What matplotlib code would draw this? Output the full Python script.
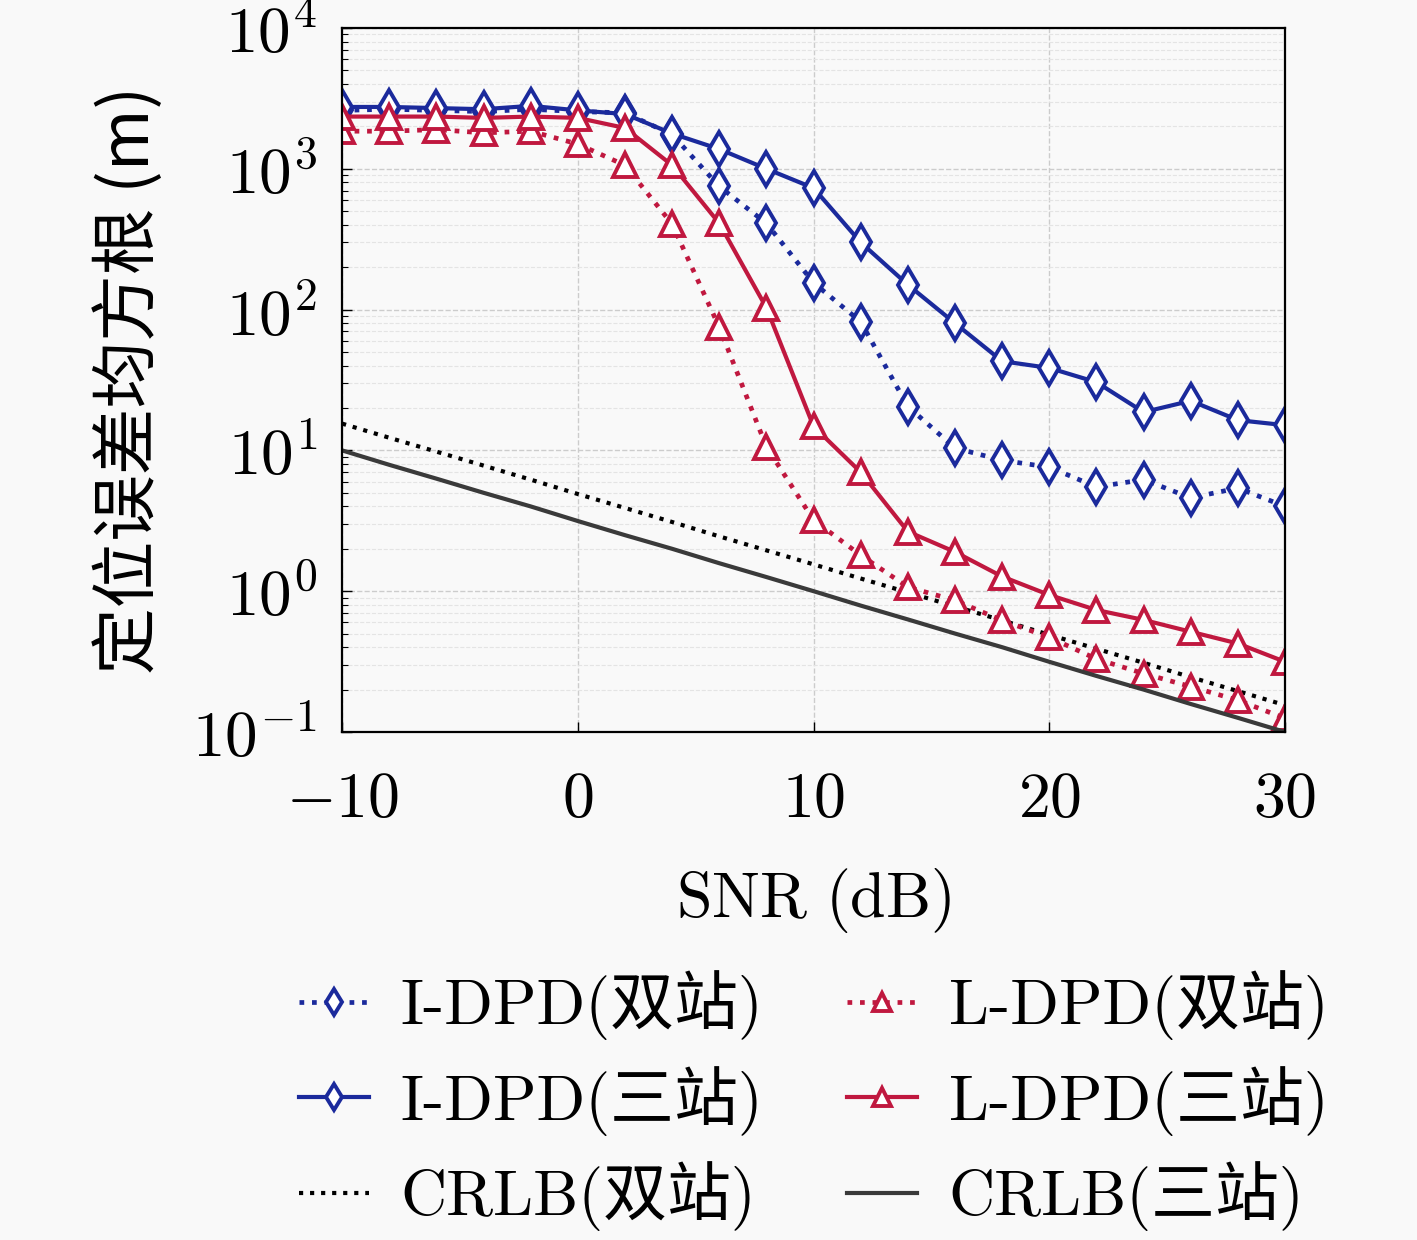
import numpy as np
import matplotlib
matplotlib.use("Agg")
import matplotlib.pyplot as plt
from matplotlib.ticker import LogLocator, NullFormatter, FixedLocator

plt.rcParams['mathtext.fontset'] = 'cm'
plt.rcParams['axes.unicode_minus'] = False

snr = [-10, -8, -6, -4, -2, 0, 2, 4, 6, 8, 10, 12, 14, 16, 18, 20, 22, 24, 26, 28, 30]

idpd_2 = [2600, 2650, 2600, 2550, 2650, 2550, 2500, 1750, 750, 410, 155, 82, 20.5, 10.4, 8.5, 7.6, 5.5, 6.2, 4.6, 5.4, 4.0]
idpd_3 = [2750, 2750, 2700, 2650, 2800, 2600, 2450, 1780, 1380, 1000, 730, 300, 150, 80, 43, 38.5, 30.5, 18.7, 22.5, 16.4, 15.1]
ldpd_2 = [1850, 1850, 1900, 1800, 1850, 1500, 1060, 405, 75, 10.6, 3.2, 1.8, 1.07, 0.86, 0.62, 0.47, 0.33, 0.26, 0.21, 0.168, 0.125]
ldpd_3 = [2350, 2350, 2350, 2300, 2350, 2300, 1950, 1060, 410, 103, 14.8, 7.0, 2.65, 1.9, 1.27, 0.94, 0.735, 0.625, 0.515, 0.425, 0.315]
crlb_2 = [15.5, 12.3, 9.8, 7.8, 6.2, 4.9, 3.9, 3.1, 2.45, 1.95, 1.55, 1.23, 0.98, 0.78, 0.62, 0.49, 0.39, 0.31, 0.245, 0.195, 0.155]
crlb_3 = [10.0, 7.9, 6.3, 5.0, 4.0, 3.15, 2.5, 2.0, 1.58, 1.26, 1.0, 0.79, 0.63, 0.5, 0.4, 0.315, 0.25, 0.2, 0.158, 0.126, 0.1]

labels = ['I-DPD(双站)', 'I-DPD(三站)', 'CRLB(双站)', 'L-DPD(双站)', 'L-DPD(三站)', 'CRLB(三站)']
xticks = [-10, 0, 10, 20, 30]
yticks = [1e-1, 1e0, 1e1, 1e2, 1e3, 1e4]
ytick_labels = [r'$10^{-1}$', r'$10^{0}$', r'$10^{1}$', r'$10^{2}$', r'$10^{3}$', r'$10^{4}$']

blue = '#1b2a9c'
red = '#c0183f'
bg = '#f9f9f9'

fig = plt.figure(figsize=(14.17, 12.4), dpi=100, facecolor=bg)
ax = fig.add_axes([0.2414, 0.4097, 0.6655, 0.5677])
ax.set_facecolor(bg)

l1, = ax.plot(snr, idpd_2, ':', color=blue, lw=3.4, marker='d', ms=17, mew=2.8, mfc='white', mec=blue)
l2, = ax.plot(snr, idpd_3, '-', color=blue, lw=3.0, marker='d', ms=17, mew=2.8, mfc='white', mec=blue)
l3, = ax.plot(snr, crlb_2, ':', color='black', lw=3.0)
l4, = ax.plot(snr, ldpd_2, ':', color=red, lw=3.4, marker='^', ms=17, mew=2.8, mfc='white', mec=red)
l5, = ax.plot(snr, ldpd_3, '-', color=red, lw=3.0, marker='^', ms=17, mew=2.8, mfc='white', mec=red)
l6, = ax.plot(snr, crlb_3, '-', color='#3a3a3a', lw=3.0)

ax.set_yscale('log')
ax.set_xlim(-10, 30)
ax.set_ylim(1e-1, 1e4)
ax.xaxis.set_major_locator(FixedLocator(xticks))
ax.set_xticklabels([r'$%d$' % v if v >= 0 else r'$-%d$' % -v for v in xticks])
ax.yaxis.set_major_locator(FixedLocator(yticks))
ax.set_yticklabels(ytick_labels)
ax.yaxis.set_minor_locator(LogLocator(base=10, subs=np.arange(2, 10), numticks=20))
ax.yaxis.set_minor_formatter(NullFormatter())

ax.tick_params(axis='x', which='major', direction='in', length=7, width=1, labelsize=46, pad=26)
ax.tick_params(axis='y', which='major', direction='in', length=7, width=1, labelsize=47, pad=18)
ax.tick_params(axis='y', which='minor', direction='in', length=4, width=0.8)
ax.tick_params(axis='x', which='minor', bottom=False)
for sp in ax.spines.values():
    sp.set_linewidth(1.6)

ax.grid(True, which='major', color='#cccccc', ls='--', lw=1.0)
ax.grid(True, which='minor', axis='y', color='#e4e4e4', ls='--', lw=0.8)

ax.set_xlabel(r'$\mathrm{SNR\ (dB)}$', fontsize=46, labelpad=26)
ax.set_ylabel('定位误差均方根 (m)', fontsize=48, family=['Noto Sans CJK SC', 'DejaVu Sans'], labelpad=20)

leg = ax.legend([l1, l2, l3, l4, l5, l6], labels, ncol=2, loc='upper center',
                bbox_to_anchor=(0.5, -0.275), frameon=False, handlelength=1.1,
                handletextpad=0.5, columnspacing=1.3, labelspacing=0.4, markerscale=0.8,
                borderpad=0.2, prop={'family': ['cmr10', 'Noto Sans CJK SC'], 'size': 46})

fig.savefig('out.png', dpi=100, facecolor=bg)
